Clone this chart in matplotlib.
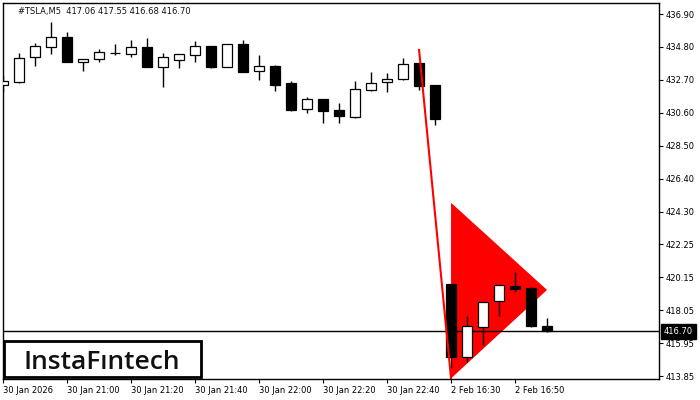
import matplotlib.pyplot as plt
from matplotlib.patches import Polygon, Rectangle

# M5 bars, #TSLA
opens  = [432.38, 432.55, 434.18, 434.82, 435.42, 433.82, 434.05, 434.39, 434.33, 434.78,
          433.54, 433.99, 434.27, 434.84, 433.54, 434.99, 433.25, 433.59, 432.51, 430.83,
          431.47, 430.79, 430.36, 432.08, 432.59, 432.74, 433.78, 432.38, 419.69, 415.04,
          416.99, 418.61, 419.58, 419.43, 417.06]
highs  = [432.93, 434.42, 435.05, 436.39, 435.73, 434.02, 434.65, 434.99, 435.23, 435.35,
          434.42, 434.33, 435.16, 434.86, 434.99, 435.24, 434.29, 433.65, 432.63, 431.62,
          431.49, 431.23, 432.63, 433.21, 433.14, 434.10, 433.80, 432.40, 419.72, 417.67,
          418.56, 419.64, 420.49, 419.50, 417.55]
lows   = [431.91, 432.49, 433.61, 434.33, 433.84, 433.29, 433.86, 434.27, 434.18, 433.52,
          432.27, 433.48, 433.86, 433.44, 433.52, 433.21, 432.72, 432.02, 430.74, 430.58,
          429.98, 429.98, 430.30, 432.02, 431.95, 432.72, 432.06, 429.85, 414.38, 414.74,
          415.82, 417.67, 419.18, 416.99, 416.68]
closes = [432.63, 434.08, 434.84, 435.42, 433.86, 434.02, 434.46, 434.41, 434.78, 433.54,
          434.14, 434.33, 434.84, 433.54, 434.97, 433.23, 433.57, 432.40, 430.79, 431.47,
          430.74, 430.42, 432.11, 432.49, 432.74, 433.70, 432.33, 430.23, 415.08, 417.01,
          418.54, 419.62, 419.37, 417.05, 416.70]

xtick_pos = [0, 4, 8, 12, 16, 20, 24, 28, 32]
xtick_labels = ["30 Jan 2026", "30 Jan 21:00", "30 Jan 21:20", "30 Jan 21:40", "30 Jan 22:00",
                "30 Jan 22:20", "30 Jan 22:40", "2 Feb 16:30", "2 Feb 16:50"]
yticks = [436.90, 434.80, 432.70, 430.60, 428.50, 426.40, 424.30, 422.25, 420.15, 418.05,
          415.95, 413.85]

# pennant: pole and triangle
pole_x = [26, 28]
pole_y = [434.61, 413.70]
tri_x = [28, 28, 34]
tri_y = [424.88, 413.70, 419.33]

last_price = 416.70

fig = plt.figure(figsize=(7, 4), dpi=100)
ax = fig.add_axes([2.7/700, 1-379/400, 656.3/700, (379-2.7)/400])

n = len(opens)
xs = list(range(n))
ax.vlines(xs, lows, highs, color="black", lw=1, zorder=3)
for i in xs:
    o, c = opens[i], closes[i]
    bot = min(o, c)
    h = max(abs(c - o), 0.02)
    ax.bar(i, h, bottom=bot, width=0.62, facecolor="white" if c >= o else "black",
           edgecolor="black", lw=0.9, zorder=4)

ax.add_patch(Polygon(list(zip(tri_x, tri_y)), closed=True, facecolor="#ff0000",
                     edgecolor="none", zorder=2))
ax.plot(pole_x, pole_y, color="#ff0000", lw=1.5, zorder=5)

ax.axhline(last_price, color="black", lw=1, zorder=3)

ax.set_xlim(-0.03, 41.0)
ax.set_ylim(413.66, 437.62)

ax.set_xticks(xtick_pos)
ax.set_xticklabels(xtick_labels, ha="left")
ax.tick_params(axis="x", length=3, pad=2, labelsize=6, direction="out")
ax.yaxis.tick_right()
ax.set_yticks(yticks)
ax.set_yticklabels([f"{v:.2f}" for v in yticks])
ax.tick_params(axis="y", length=3, pad=2, labelsize=6, direction="out")
for s in ax.spines.values():
    s.set_linewidth(1)

ax.text(1.0 + 4.5/656, last_price, f"{last_price:.2f}", transform=ax.get_yaxis_transform(),
        ha="left", va="center", fontsize=6, color="white", zorder=20,
        bbox=dict(boxstyle="square,pad=0.35", facecolor="black", edgecolor="black"))

fig.text(18/700, 1-14/400, "#TSLA,M5  417.06 417.55 416.68 416.70", fontsize=6,
         ha="left", va="baseline", color="#101020")

# logo
fig.patches.append(Rectangle((3.5/700, 1-377/400), 197/700, 36/400, transform=fig.transFigure,
                             facecolor="white", edgecolor="black", lw=2, zorder=10))
fig.text(101.7/700, 1-369.3/400, "InstaF\u0131ntech", fontsize=19, ha="center",
         va="baseline", color="#111111", family="Open Sans", fontweight="semibold", zorder=11)

fig.savefig("out.png", dpi=100)
